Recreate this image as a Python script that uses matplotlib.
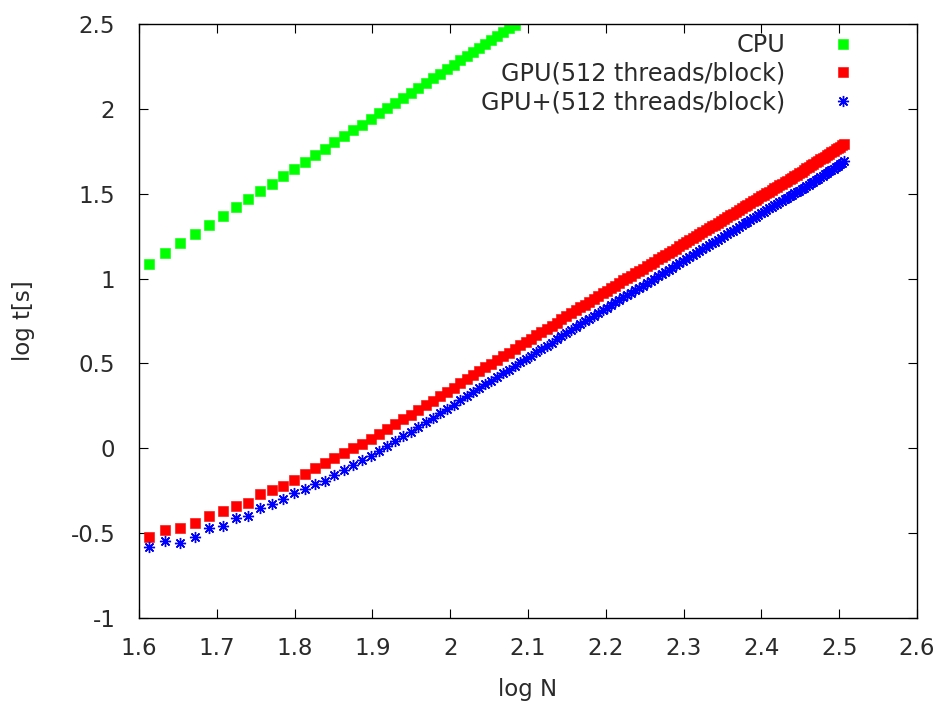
import numpy as np
import matplotlib
matplotlib.use("Agg")
import matplotlib.pyplot as plt

# Tamanhos do problema (N), passo 2; o eixo x mostra log N
N_CPU = list(range(41, 122, 2))
N_GPU = list(range(41, 322, 2))

# log t[s]
cpu = [1.086, 1.148, 1.207, 1.264, 1.318, 1.370, 1.421, 1.469, 1.515, 1.560,
       1.604, 1.646, 1.686, 1.726, 1.764, 1.802, 1.838, 1.873, 1.907, 1.940,
       1.973, 2.005, 2.036, 2.066, 2.096, 2.125, 2.153, 2.181, 2.208, 2.234,
       2.261, 2.286, 2.311, 2.336, 2.360, 2.384, 2.407, 2.430, 2.452, 2.474,
       2.496]

gpu = [-0.524, -0.483, -0.470, -0.440, -0.400, -0.370, -0.340, -0.320, -0.270, -0.245,
       -0.220, -0.185, -0.152, -0.119, -0.088, -0.057, -0.028, 0.000, 0.028, 0.054,
       0.084, 0.113, 0.142, 0.171, 0.198, 0.226, 0.254, 0.280, 0.307, 0.332,
       0.357, 0.382, 0.406, 0.430, 0.453, 0.476, 0.499, 0.521, 0.543, 0.564,
       0.585, 0.606, 0.626, 0.646, 0.666, 0.685, 0.704, 0.723, 0.741, 0.760,
       0.778, 0.795, 0.813, 0.830, 0.847, 0.864, 0.881, 0.897, 0.913, 0.929,
       0.944, 0.959, 0.974, 0.989, 1.003, 1.017, 1.031, 1.045, 1.059, 1.073,
       1.087, 1.100, 1.113, 1.126, 1.139, 1.152, 1.165, 1.177, 1.190, 1.202,
       1.214, 1.226, 1.238, 1.250, 1.261, 1.273, 1.285, 1.296, 1.307, 1.318,
       1.329, 1.340, 1.351, 1.362, 1.372, 1.383, 1.394, 1.404, 1.414, 1.425,
       1.435, 1.445, 1.455, 1.465, 1.474, 1.484, 1.494, 1.503, 1.513, 1.522,
       1.532, 1.541, 1.550, 1.559, 1.568, 1.577, 1.586, 1.595, 1.604, 1.613,
       1.621, 1.630, 1.639, 1.649, 1.658, 1.667, 1.676, 1.684, 1.693, 1.702,
       1.711, 1.719, 1.728, 1.736, 1.745, 1.753, 1.762, 1.770, 1.778, 1.786,
       1.795]

gpu_plus = [-0.583, -0.548, -0.560, -0.520, -0.470, -0.460, -0.410, -0.400, -0.350, -0.330,
            -0.300, -0.265, -0.240, -0.210, -0.190, -0.157, -0.128, -0.100, -0.072, -0.046,
            -0.016, 0.013, 0.042, 0.071, 0.098, 0.126, 0.154, 0.180, 0.207, 0.232,
            0.257, 0.282, 0.306, 0.330, 0.353, 0.376, 0.399, 0.421, 0.443, 0.464,
            0.485, 0.506, 0.526, 0.546, 0.566, 0.585, 0.604, 0.623, 0.641, 0.660,
            0.678, 0.695, 0.713, 0.730, 0.747, 0.764, 0.781, 0.797, 0.813, 0.829,
            0.844, 0.859, 0.874, 0.889, 0.903, 0.917, 0.931, 0.945, 0.959, 0.973,
            0.987, 1.000, 1.013, 1.026, 1.039, 1.052, 1.065, 1.077, 1.090, 1.102,
            1.114, 1.126, 1.138, 1.150, 1.161, 1.173, 1.185, 1.196, 1.207, 1.218,
            1.229, 1.240, 1.251, 1.262, 1.272, 1.283, 1.294, 1.304, 1.314, 1.325,
            1.335, 1.345, 1.355, 1.365, 1.374, 1.384, 1.394, 1.403, 1.413, 1.422,
            1.432, 1.441, 1.450, 1.459, 1.468, 1.477, 1.486, 1.495, 1.504, 1.513,
            1.516, 1.525, 1.534, 1.544, 1.553, 1.562, 1.571, 1.579, 1.588, 1.597,
            1.606, 1.614, 1.623, 1.631, 1.640, 1.648, 1.657, 1.665, 1.673, 1.681,
            1.690]

LABELS = ["CPU", "GPU(512 threads/block)", "GPU+(512 threads/block)"]
X_TICKS = [1.6, 1.7, 1.8, 1.9, 2.0, 2.1, 2.2, 2.3, 2.4, 2.5, 2.6]
Y_TICKS = [-1, -0.5, 0, 0.5, 1, 1.5, 2, 2.5]

FONT = 16.5
TXT = "#2a2a2a"
plt.rcParams["font.family"] = ["DejaVu Sans"]

fig = plt.figure(figsize=(9.34, 7.04), dpi=100)
ax = fig.add_axes([0.1488, 0.1222, 0.8330, 0.8437])

ax.plot(np.log10(N_CPU), cpu, ls="none", marker="s", ms=6.6, mew=0.4,
        color="#00ff00", label=LABELS[0])
ax.plot(np.log10(N_GPU), gpu, ls="none", marker="s", ms=6.6, mew=0.4,
        color="#ff0000", label=LABELS[1])
ax.plot(np.log10(N_GPU), gpu_plus, ls="none", marker=(8, 2, 0), ms=8, mew=1.0,
        color="#0000ff", label=LABELS[2])

ax.set_xlim(1.6, 2.6)
ax.set_ylim(-1, 2.5)
ax.set_xticks(X_TICKS)
ax.set_xticklabels([f"{v:g}" for v in X_TICKS])
ax.set_yticks(Y_TICKS)
ax.set_yticklabels([f"{v:g}" for v in Y_TICKS])

ax.tick_params(axis="both", direction="in", length=6.5, width=0.8,
               top=True, right=True, labelsize=FONT, colors="black",
               labelcolor=TXT)
ax.tick_params(axis="x", pad=13.5)
ax.tick_params(axis="y", pad=17)
for s in ax.spines.values():
    s.set_linewidth(1.0)

ax.set_xlabel("log N", fontsize=FONT, color=TXT, labelpad=13)
ax.set_ylabel("log t[s]", fontsize=FONT, color=TXT, labelpad=26)

leg = ax.legend(loc="upper right", bbox_to_anchor=(0.92, 0.985),
                frameon=False, markerfirst=False, fontsize=17.2,
                handlelength=1.0, handletextpad=1.9, labelspacing=0.2,
                borderpad=0, borderaxespad=0)
for t in leg.get_texts():
    t.set_color(TXT)

fig.savefig("out.png", dpi=100)
